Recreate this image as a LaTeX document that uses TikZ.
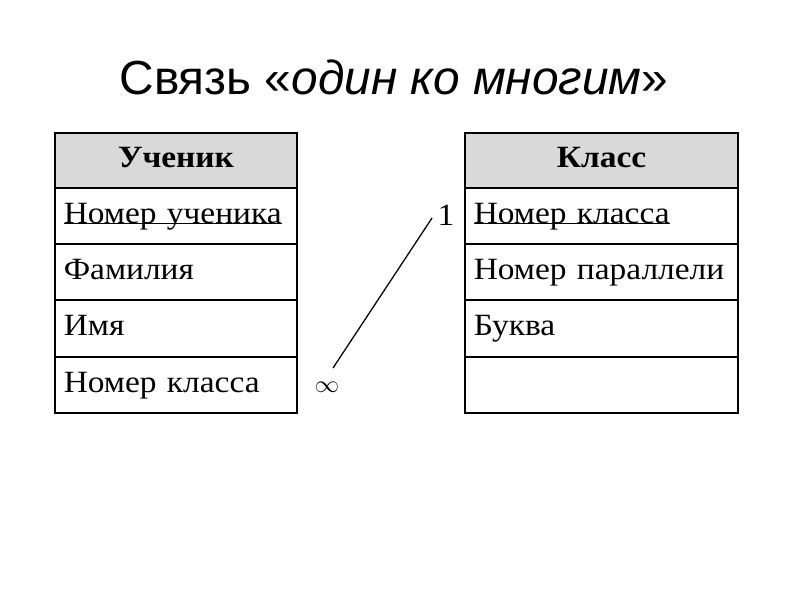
\documentclass[tikz,border=0pt]{standalone}
\usepackage{fontspec}
\setmainfont{Liberation Serif}
\newfontfamily\titlefont{Liberation Sans}
\newfontfamily\tabfont[FakeStretch=1.08]{Liberation Serif}
\usetikzlibrary{positioning}
\newcommand{\keyfield}[1]{\setbox0\hbox{#1}\rlap{\rule[-0.6pt]{\wd0}{0.9pt}}\box0}

\begin{document}
\begin{tikzpicture}[x=0.025cm,y=-0.025cm,
  head/.style={draw,line width=1.3pt,fill=gray!30,minimum height=1.375cm,text height=15pt,text depth=5pt,font=\tabfont\fontsize{22}{26}\selectfont\bfseries},
  cell/.style={draw,line width=1.3pt,minimum height=1.4cm,inner xsep=0.22cm,align=left,text height=15pt,text depth=5pt,font=\tabfont\fontsize{22}{26}\selectfont},
  lcell/.style={cell,text width=5.61cm},
  rcell/.style={cell,text width=6.385cm}]
\useasboundingbox (0,0) rectangle (800,600);
\node[font=\titlefont\fontsize{34}{40}\selectfont] (title) at (394,77) {Связь «\textit{один ко многим}»};
% Ученик
\node[head,minimum width=6.05cm] (s0) at (176,160.5) {Ученик};
\node[lcell] (s1) at (176,216) {\keyfield{Номер ученика}};
\node[lcell] (s2) at (176,272) {Фамилия};
\node[lcell] (s3) at (176,328.5) {Имя};
\node[lcell] (s4) at (176,385) {Номер класса};
% Класс
\node[head,minimum width=6.825cm] (k0) at (601.5,160.5) {Класс};
\node[rcell] (k1) at (601.5,216) {\keyfield{Номер класса}};
\node[rcell] (k2) at (601.5,272) {Номер параллели};
\node[rcell] (k3) at (601.5,328.5) {Буква};
\node[rcell] (k4) at (601.5,385) {};
% link
\coordinate (c1) at (432,218);
\coordinate (cn) at (333,368);
\node[font=\tabfont\fontsize{22}{26}\selectfont] (one) at (446,215) {1};
\node[font=\fontsize{17}{20}\selectfont] (many) at (327,387) {$\infty$};
\draw[line width=0.9pt] (cn) to (c1);
\end{tikzpicture}
\end{document}
